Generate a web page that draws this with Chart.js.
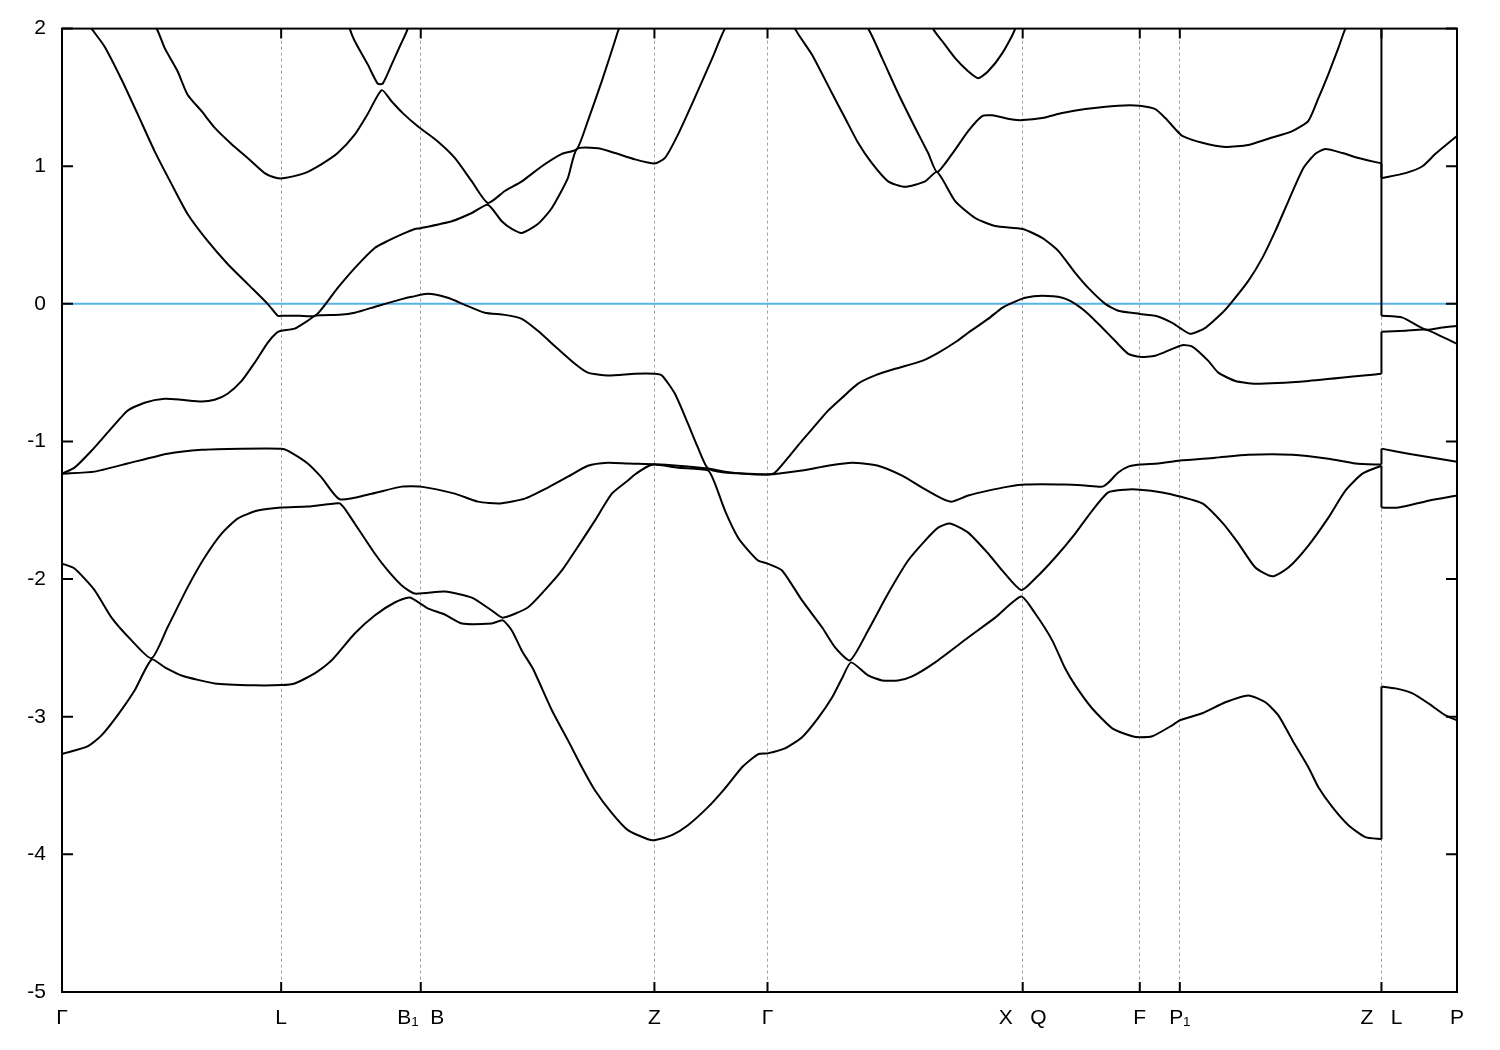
<!DOCTYPE html>
<html>
<head>
<meta charset="utf-8">
<title>Band structure</title>
<script src="https://cdn.jsdelivr.net/npm/chart.js@4.4.1/dist/chart.umd.min.js"></script>
<style>
  html, body { margin: 0; padding: 0; background: #fff; }
  #bands { display: block; }
</style>
</head>
<body>
<canvas id="bands" width="1500" height="1050"></canvas>
<script>
// bands.js - electronic band structure along the high-symmetry path

// high-symmetry points on the k-path
const symK = [0, 2.19, 3.585, 5.92, 7.05, 9.6, 10.77, 11.17, 13.185, 13.94];
const symLabels = ["Γ", "L", "B₁  B", "Z", "Γ", "X   Q", "F", "P₁", "Z   L", "P"];
const energyTicks = [-5, -4, -3, -2, -1, 0, 1, 2];

// bands as [k, E (eV)] pairs, sorted by energy; values above 2 run off the top
const band1 = [[0,-3.27],[0.255,-3.215],[0.395,-3.135],[0.555,-2.99],[0.725,-2.81],[0.895,-2.585],[1.025,-2.64],[1.195,-2.70],[1.525,-2.758],[1.925,-2.772],[2.19,-2.77],[2.325,-2.758],[2.525,-2.685],[2.695,-2.59],[2.925,-2.395],[3.125,-2.264],[3.325,-2.17],[3.475,-2.134],[3.655,-2.213],[3.825,-2.257],[3.995,-2.322],[4.295,-2.322],[4.405,-2.30],[4.495,-2.373],[4.595,-2.52],[4.705,-2.65],[4.895,-2.953],[5.055,-3.17],[5.195,-3.367],[5.325,-3.534],[5.495,-3.70],[5.655,-3.824],[5.855,-3.89],[5.92,-3.897],[6.095,-3.86],[6.255,-3.788],[6.455,-3.657],[6.625,-3.52],[6.805,-3.36],[6.955,-3.273],[7.05,-3.266],[7.225,-3.23],[7.395,-3.149],[7.555,-3.01],[7.695,-2.86],[7.795,-2.72],[7.885,-2.605],[8.055,-2.70],[8.195,-2.736],[8.355,-2.736],[8.495,-2.707],[8.725,-2.605],[9.055,-2.424],[9.325,-2.28],[9.585,-2.126],[9.725,-2.25],[9.895,-2.445],[10.025,-2.65],[10.125,-2.772],[10.295,-2.94],[10.495,-3.084],[10.695,-3.142],[10.77,-3.149],[10.895,-3.142],[11.095,-3.062],[11.17,-3.026],[11.395,-2.975],[11.625,-2.895],[11.855,-2.845],[12.025,-2.895],[12.155,-2.99],[12.295,-3.17],[12.455,-3.367],[12.555,-3.512],[12.695,-3.657],[12.855,-3.788],[13.025,-3.875],[13.185,-3.89],[13.185,-2.78],[13.325,-2.794],[13.495,-2.83],[13.655,-2.903],[13.825,-2.99],[13.94,-3.026]];

const band2 = [[0,-1.887],[0.125,-1.923],[0.325,-2.08],[0.495,-2.28],[0.695,-2.445],[0.895,-2.575],[1.055,-2.35],[1.255,-2.06],[1.425,-1.843],[1.595,-1.669],[1.755,-1.56],[1.955,-1.502],[2.19,-1.48],[2.455,-1.473],[2.725,-1.45],[2.775,-1.45],[2.825,-1.488],[2.925,-1.596],[3.125,-1.814],[3.255,-1.937],[3.395,-2.046],[3.525,-2.105],[3.825,-2.09],[4.095,-2.134],[4.295,-2.228],[4.405,-2.28],[4.655,-2.206],[4.825,-2.08],[4.995,-1.937],[5.195,-1.72],[5.325,-1.575],[5.495,-1.379],[5.655,-1.284],[5.725,-1.24],[5.855,-1.18],[5.92,-1.168],[6.155,-1.19],[6.455,-1.21],[6.525,-1.306],[6.625,-1.502],[6.755,-1.698],[6.855,-1.79],[6.955,-1.865],[7.05,-1.887],[7.195,-1.937],[7.395,-2.155],[7.595,-2.35],[7.725,-2.496],[7.875,-2.59],[8.055,-2.373],[8.255,-2.105],[8.455,-1.865],[8.625,-1.72],[8.755,-1.626],[8.875,-1.596],[9.055,-1.662],[9.255,-1.814],[9.395,-1.937],[9.585,-2.08],[9.725,-1.996],[9.925,-1.843],[10.125,-1.669],[10.295,-1.502],[10.455,-1.37],[10.625,-1.35],[10.77,-1.35],[10.995,-1.37],[11.17,-1.40],[11.395,-1.45],[11.595,-1.59],[11.755,-1.74],[11.925,-1.916],[12.095,-1.98],[12.255,-1.916],[12.455,-1.756],[12.655,-1.553],[12.825,-1.357],[12.995,-1.234],[13.185,-1.176],[13.185,-1.48],[13.355,-1.48],[13.655,-1.43],[13.94,-1.393]];

const band3 = [[0,-1.234],[0.325,-1.219],[0.655,-1.16],[1.055,-1.089],[1.395,-1.06],[1.795,-1.052],[2.19,-1.052],[2.255,-1.067],[2.455,-1.16],[2.595,-1.263],[2.775,-1.42],[3.095,-1.379],[3.395,-1.328],[3.585,-1.328],[3.925,-1.379],[4.155,-1.437],[4.375,-1.45],[4.625,-1.415],[4.855,-1.335],[5.055,-1.256],[5.255,-1.176],[5.455,-1.154],[5.655,-1.16],[5.92,-1.165],[6.155,-1.176],[6.455,-1.197],[6.625,-1.219],[6.825,-1.234],[7.05,-1.24],[7.395,-1.21],[7.655,-1.176],[7.895,-1.154],[8.155,-1.176],[8.395,-1.248],[8.595,-1.335],[8.795,-1.415],[8.895,-1.437],[9.055,-1.393],[9.255,-1.357],[9.455,-1.328],[9.625,-1.313],[10.025,-1.313],[10.225,-1.32],[10.395,-1.328],[10.455,-1.299],[10.555,-1.226],[10.655,-1.183],[10.77,-1.168],[10.955,-1.16],[11.17,-1.139],[11.525,-1.118],[11.855,-1.096],[12.295,-1.096],[12.655,-1.125],[12.925,-1.16],[13.185,-1.168],[13.185,-1.052],[13.455,-1.089],[13.94,-1.147]];

const band4 = [[0,-1.234],[0.125,-1.19],[0.295,-1.067],[0.455,-0.936],[0.655,-0.776],[0.825,-0.718],[1.025,-0.69],[1.195,-0.697],[1.395,-0.71],[1.525,-0.697],[1.655,-0.653],[1.795,-0.56],[1.925,-0.428],[2.055,-0.283],[2.145,-0.21],[2.19,-0.196],[2.325,-0.18],[2.455,-0.123],[2.535,-0.085],[2.775,-0.08],[2.925,-0.065],[3.155,-0.015],[3.405,0.036],[3.495,0.051],[3.655,0.073],[3.855,0.044],[4.025,-0.007],[4.225,-0.065],[4.425,-0.08],[4.595,-0.109],[4.755,-0.196],[4.955,-0.327],[5.125,-0.435],[5.255,-0.50],[5.455,-0.52],[5.725,-0.508],[5.92,-0.508],[5.995,-0.52],[6.125,-0.653],[6.255,-0.87],[6.355,-1.045],[6.455,-1.197],[6.625,-1.226],[6.825,-1.234],[7.05,-1.24],[7.125,-1.226],[7.255,-1.118],[7.395,-0.994],[7.525,-0.885],[7.655,-0.776],[7.795,-0.682],[7.955,-0.58],[8.125,-0.52],[8.325,-0.472],[8.595,-0.414],[8.755,-0.356],[8.945,-0.27],[9.055,-0.21],[9.255,-0.109],[9.395,-0.029],[9.495,0.007],[9.625,0.044],[9.795,0.058],[9.995,0.044],[10.125,0],[10.255,-0.073],[10.395,-0.174],[10.525,-0.27],[10.655,-0.363],[10.77,-0.385],[10.925,-0.377],[11.095,-0.327],[11.195,-0.30],[11.295,-0.31],[11.455,-0.414],[11.555,-0.50],[11.725,-0.56],[11.925,-0.58],[12.455,-0.56],[13.185,-0.508],[13.185,-0.203],[13.425,-0.196],[13.625,-0.187],[13.795,-0.24],[13.94,-0.29]];

const band5 = [[0,2.3],[0.295,2.0],[0.425,1.87],[0.595,1.63],[0.755,1.38],[0.925,1.11],[1.095,0.87],[1.255,0.653],[1.455,0.457],[1.655,0.29],[1.855,0.145],[2.055,0],[2.155,-0.087],[2.19,-0.087],[2.375,-0.087],[2.535,-0.085],[2.755,0.116],[2.925,0.26],[3.125,0.406],[3.255,0.457],[3.405,0.508],[3.525,0.544],[3.585,0.55],[3.895,0.60],[4.095,0.66],[4.255,0.72],[4.395,0.60],[4.495,0.544],[4.595,0.515],[4.755,0.58],[4.895,0.697],[5.055,0.914],[5.145,1.125],[5.355,1.13],[5.525,1.096],[5.725,1.05],[5.92,1.02],[6.025,1.06],[6.155,1.23],[6.325,1.50],[6.495,1.78],[6.625,2.0],[7.05,2.5],[7.325,2.0],[7.495,1.81],[7.695,1.53],[7.825,1.35],[7.955,1.17],[8.095,1.02],[8.255,0.89],[8.425,0.85],[8.625,0.89],[8.745,0.958],[8.925,0.747],[9.125,0.624],[9.325,0.566],[9.6,0.544],[9.795,0.479],[9.955,0.385],[10.125,0.225],[10.255,0.116],[10.425,0],[10.555,-0.05],[10.77,-0.073],[10.925,-0.087],[11.095,-0.138],[11.17,-0.174],[11.275,-0.218],[11.425,-0.174],[11.595,-0.065],[11.675,0],[11.855,0.167],[11.995,0.334],[12.125,0.53],[12.255,0.747],[12.405,0.987],[12.525,1.09],[12.625,1.125],[12.795,1.096],[12.955,1.06],[13.185,1.02],[13.185,-0.087],[13.395,-0.10],[13.625,-0.187],[13.775,-0.174],[13.94,-0.16]];

const band6 = [[0,3.0],[0.945,2.0],[1.025,1.86],[1.155,1.69],[1.255,1.52],[1.395,1.40],[1.525,1.28],[1.695,1.16],[1.855,1.06],[2.025,0.95],[2.145,0.914],[2.225,0.914],[2.425,0.95],[2.595,1.016],[2.755,1.096],[2.925,1.23],[3.055,1.38],[3.195,1.553],[3.295,1.47],[3.405,1.386],[3.555,1.29],[3.755,1.18],[3.925,1.06],[4.095,0.89],[4.255,0.733],[4.425,0.82],[4.595,0.89],[4.795,1.00],[4.995,1.09],[5.145,1.125],[5.255,1.33],[5.395,1.62],[5.525,1.91],[5.565,2.0],[5.92,2.6],[7.05,3.0],[8.055,2.0],[8.195,1.785],[8.355,1.53],[8.525,1.28],[8.655,1.096],[8.745,0.958],[8.895,1.09],[9.055,1.255],[9.195,1.364],[9.295,1.37],[9.495,1.34],[9.6,1.335],[9.795,1.35],[9.995,1.386],[10.225,1.415],[10.555,1.44],[10.77,1.44],[10.925,1.415],[11.025,1.35],[11.125,1.27],[11.195,1.22],[11.395,1.17],[11.625,1.14],[11.855,1.155],[12.055,1.20],[12.295,1.255],[12.455,1.33],[12.555,1.495],[12.655,1.67],[12.755,1.86],[12.825,2.0],[13.185,2.5],[13.185,0.914],[13.425,0.95],[13.595,1.00],[13.725,1.09],[13.94,1.22]];

// only dips into the window near B and near X
const band7 = [[2.755,2.3],[2.875,2.0],[2.925,1.91],[3.055,1.74],[3.155,1.60],[3.205,1.60],[3.295,1.74],[3.375,1.87],[3.455,2.0],[3.525,2.3],[6.0,null],[8.625,2.3],[8.705,2.0],[8.795,1.91],[8.925,1.785],[9.055,1.69],[9.155,1.64],[9.255,1.69],[9.395,1.82],[9.525,2.0],[9.6,2.3]];

const fermiLevel = [[0, 0], [13.94, 0]];

const bands = [band1, band2, band3, band4, band5, band6, band7];

const FONT = { family: "'Liberation Sans', Arial, sans-serif", size: 21 };

// box around the plot with gnuplot-style inward ticks
const framePlugin = {
  id: "frame",
  afterDatasetsDraw(chart) {
    const { ctx, chartArea: a, scales } = chart;
    ctx.save();
    ctx.strokeStyle = "#000";
    ctx.lineWidth = 2;
    ctx.beginPath();
    symK.forEach(k => {
      const px = scales.x.getPixelForValue(k);
      ctx.moveTo(px, a.bottom); ctx.lineTo(px, a.bottom - 10);
      ctx.moveTo(px, a.top); ctx.lineTo(px, a.top + 10);
    });
    energyTicks.forEach(v => {
      const py = scales.y.getPixelForValue(v);
      ctx.moveTo(a.left, py); ctx.lineTo(a.left + 11, py);
      ctx.moveTo(a.right, py); ctx.lineTo(a.right - 11, py);
    });
    ctx.stroke();
    ctx.strokeRect(a.left, a.top, a.right - a.left, a.bottom - a.top);
    ctx.restore();
  }
};

// split a band at the Z|L jump so the jump stays a straight vertical line
function splitAtJump(band) {
  for (let i = 0; i < band.length - 1; i++) {
    if (band[i][0] === band[i + 1][0]) {
      return [
        { pts: band.slice(0, i + 1), tension: 0.2 },
        { pts: [band[i], band[i + 1]], tension: 0 },
        { pts: band.slice(i + 1), tension: 0.2 }
      ];
    }
  }
  return [{ pts: band, tension: 0.2 }];
}

const datasets = [];
bands.forEach(b => {
  splitAtJump(b).forEach(part => {
    datasets.push({
      data: part.pts.map(([k, e]) => ({ x: k, y: e })),
      borderColor: "#000",
      borderWidth: 2,
      pointRadius: 0,
      tension: part.tension,
      spanGaps: false,
      fill: false
    });
  });
});

datasets.push({
  data: fermiLevel.map(([k, e]) => ({ x: k, y: e })),
  borderColor: "#56b4e9",
  borderWidth: 2,
  pointRadius: 0,
  fill: false
});

new Chart(document.getElementById("bands"), {
  type: "line",
  data: { datasets },
  options: {
    responsive: false,
    animation: false,
    events: [],
    layout: { padding: { top: 27, right: 43, left: 0, bottom: 0 } },
    plugins: { legend: { display: false }, tooltip: { enabled: false } },
    scales: {
      x: {
        type: "linear",
        min: 0,
        max: 13.94,
        afterBuildTicks: s => { s.ticks = symK.map(v => ({ value: v })); },
        afterFit: s => { s.height = 58; },
        ticks: {
          autoSkip: false,
          maxRotation: 0,
          minRotation: 0,
          padding: 14,
          color: "#000",
          font: FONT,
          callback: (v, i) => symLabels[i]
        },
        grid: { color: "#a0a0a0", lineWidth: 1, drawTicks: false },
        border: { display: false, dash: [3, 3] }
      },
      y: {
        type: "linear",
        min: -5,
        max: 2,
        afterBuildTicks: s => { s.ticks = energyTicks.map(v => ({ value: v })); },
        afterFit: s => { s.width = 62; },
        ticks: {
          padding: 16,
          color: "#000",
          font: FONT,
          callback: v => String(v)
        },
        grid: { display: false, drawTicks: false },
        border: { display: false }
      }
    }
  },
  plugins: [framePlugin]
});
</script>
</body>
</html>
